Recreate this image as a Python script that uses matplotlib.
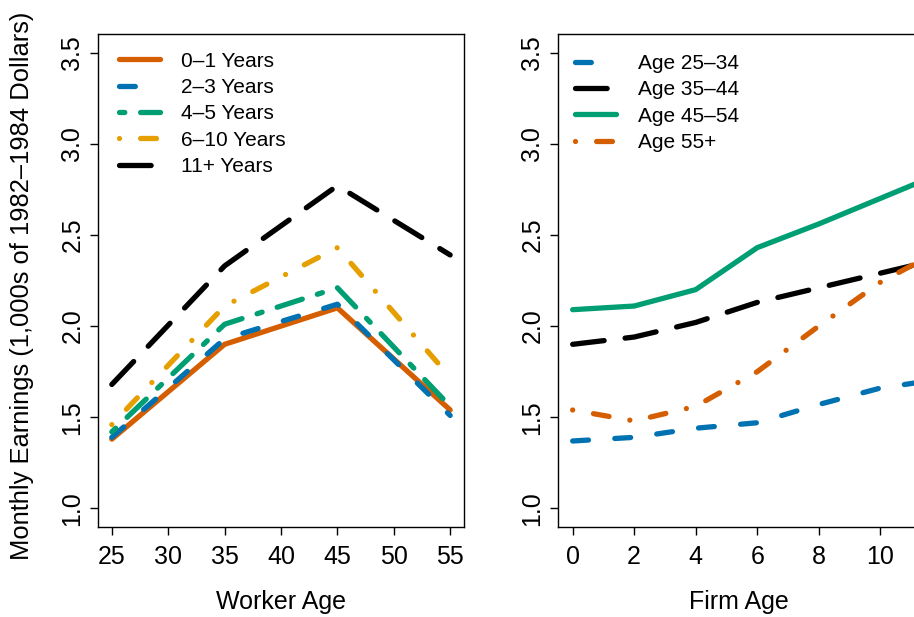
import matplotlib
matplotlib.use("Agg")
import matplotlib.pyplot as plt

plt.rcParams['font.family'] = ['Liberation Sans', 'DejaVu Sans']

# ---- Data: left panel (earnings by worker age, per firm-age group) ----
worker_age = [25, 35, 45, 55]
left_labels = ["0\u20131 Years", "2\u20133 Years", "4\u20135 Years", "6\u201310 Years", "11+ Years"]
y_0_1 = [1.38, 1.90, 2.10, 1.54]
y_2_3 = [1.39, 1.93, 2.12, 1.51]
y_4_5 = [1.42, 2.01, 2.21, 1.56]
y_6_10 = [1.46, 2.11, 2.43, 1.72]
y_11p = [1.68, 2.33, 2.77, 2.39]

# ---- Data: right panel (earnings by firm age, per worker-age group) ----
firm_age = [0, 2, 4, 6, 8, 10, 12]
right_labels = ["Age 25\u201334", "Age 35\u201344", "Age 45\u201354", "Age 55+"]
a_25_34 = [1.37, 1.39, 1.44, 1.47, 1.57, 1.66, 1.71]
a_35_44 = [1.90, 1.94, 2.02, 2.13, 2.21, 2.29, 2.37]
a_45_54 = [2.09, 2.11, 2.20, 2.43, 2.56, 2.70, 2.84]
a_55p = [1.54, 1.48, 1.56, 1.75, 2.00, 2.24, 2.42]

left_xticks = [25, 30, 35, 40, 45, 50, 55]
right_xticks = [0, 2, 4, 6, 8, 10]
yticks = [1.0, 1.5, 2.0, 2.5, 3.0, 3.5]

# ---- styles ----
ORANGE = "#D55E00"
BLUE = "#0072B2"
GREEN = "#009E73"
YELLOW = "#E69F00"
BLACK = "#000000"
SOLID = "-"
DASHED = (0, (3, 5))
DOTDASH = (0, (0.001, 4, 3, 4))
TWODASH = (0, (1, 3, 5, 3))
LONGDASH = (0, (6, 4))
LW = 3.8

W, H = 914, 617
fig = plt.figure(figsize=(W / 100, H / 100), dpi=100)

bot = 1 - 526.7 / H
hgt = (526.7 - 34.3) / H
axL = fig.add_axes([98.3 / W, bot, (463.7 - 98.3) / W, hgt])
axR = fig.add_axes([558.3 / W, bot, (947.0 - 558.3) / W, hgt])

left_series = [(y_0_1, ORANGE, SOLID), (y_2_3, BLUE, DASHED), (y_4_5, GREEN, TWODASH),
               (y_6_10, YELLOW, DOTDASH), (y_11p, BLACK, LONGDASH)]
for (vals, col, ls), lab in zip(left_series, left_labels):
    axL.plot(worker_age, vals, color=col, linestyle=ls, lw=LW, label=lab,
             dash_capstyle='round', solid_capstyle='round', solid_joinstyle='miter')

right_series = [(a_25_34, BLUE, DASHED), (a_35_44, BLACK, LONGDASH),
                (a_45_54, GREEN, SOLID), (a_55p, ORANGE, DOTDASH)]
for (vals, col, ls), lab in zip(right_series, right_labels):
    axR.plot(firm_age, vals, color=col, linestyle=ls, lw=LW, label=lab,
             dash_capstyle='round', solid_capstyle='round', solid_joinstyle='miter')

axL.set_xlim(23.8, 56.2)
axR.set_xlim(-0.467, 12.17)
for ax in (axL, axR):
    ax.set_ylim(0.9, 3.6)
    ax.set_yticks(yticks)
    ax.set_yticklabels([f"{v:.1f}" for v in yticks], rotation=90, va='center')
    for s in ax.spines.values():
        s.set_linewidth(1.0)
    ax.tick_params(direction='out', length=6, width=1.0, labelsize=18, pad=4)
    ax.tick_params(axis='x', pad=7.5)

axL.set_xticks(left_xticks)
axL.set_xticklabels([str(v) for v in left_xticks])
axR.set_xticks(right_xticks)
axR.set_xticklabels([str(v) for v in right_xticks])

fig.text(280.5 / W, 1 - 602 / H, "Worker Age", ha='center', va='center', fontsize=18)
fig.text((558.3 + 181) / W, 1 - 602 / H, "Firm Age", ha='center', va='center', fontsize=18)
fig.text(22 / W, 1 - 286 / H, "Monthly Earnings (1,000s of 1982\u20131984 Dollars)",
         rotation=90, ha='center', va='center', fontsize=18.4)

legkw = dict(loc='upper left', frameon=False, fontsize=15, handlelength=1.97,
             handletextpad=1.03, labelspacing=0.355, borderpad=0, borderaxespad=0)
axL.legend(bbox_to_anchor=(0.056, 0.965), **legkw)
axR.legend(bbox_to_anchor=(0.044, 0.96), **legkw)

fig.savefig("out.png", dpi=100)
